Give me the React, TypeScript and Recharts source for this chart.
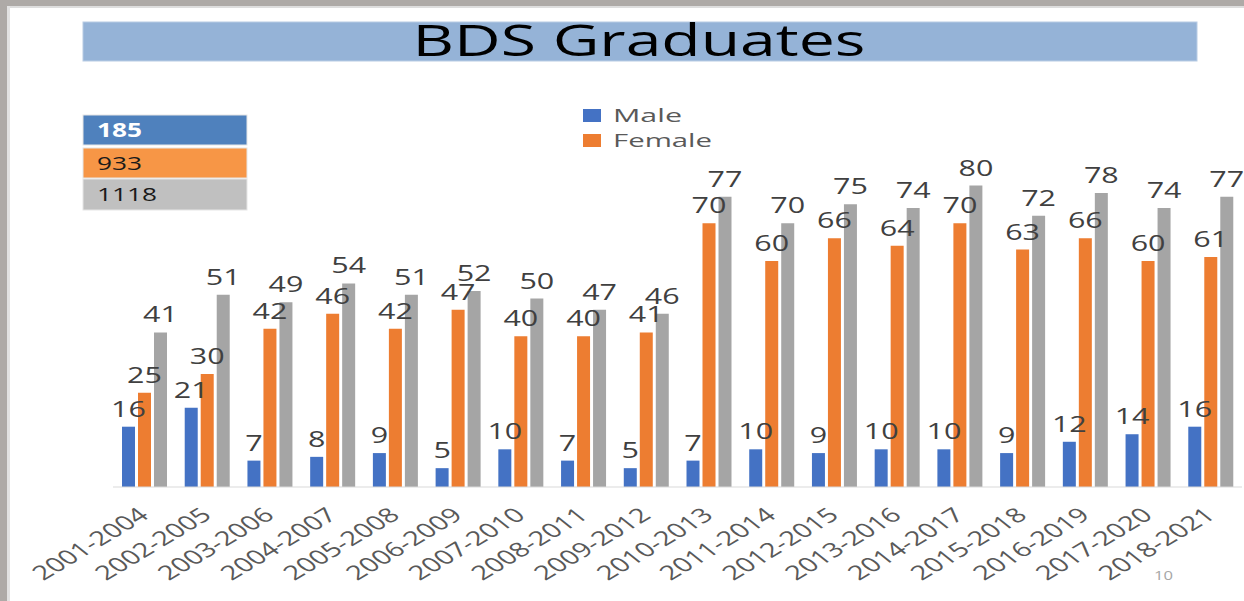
import React from "react";
import { BarChart, Bar, XAxis, YAxis, LabelList } from "recharts";

const categories = [
  "2001-2004", "2002-2005", "2003-2006", "2004-2007", "2005-2008", "2006-2009",
  "2007-2010", "2008-2011", "2009-2012", "2010-2013", "2011-2014", "2012-2015",
  "2013-2016", "2014-2017", "2015-2018", "2016-2019", "2017-2020", "2018-2021",
];
const maleValues = [16, 21, 7, 8, 9, 5, 10, 7, 5, 7, 10, 9, 10, 10, 9, 12, 14, 16];
const femaleValues = [25, 30, 42, 46, 42, 47, 40, 40, 41, 70, 60, 66, 64, 70, 63, 66, 60, 61];
const totalValues = [41, 51, 49, 54, 51, 52, 50, 47, 46, 77, 70, 75, 74, 80, 72, 78, 74, 77];
const summaryTotals = [185, 933, 1118];
const seriesNames = ["Male", "Female"];
const yTicks = [0, 80];

const FONT = "'Open Sans', 'DejaVu Sans', sans-serif";
const STRETCH = 1.45;

const data = categories.map((c, i) => ({
  period: c,
  male: maleValues[i],
  female: femaleValues[i],
  total: totalValues[i],
}));

const ValueLabel = (props: any) => {
  const { x, y, width, value } = props;
  const cx = Number(x) + Number(width) / 2;
  return (
    <text
      transform={`translate(${cx},${Number(y) - 10}) scale(${STRETCH},1)`}
      textAnchor="middle"
      fontSize={21}
      fontFamily={FONT}
      fill="#404040"
    >
      {value}
    </text>
  );
};

const AngledTick = (props: any) => {
  const { x, y, payload } = props;
  return (
    <g transform={`translate(${Number(x) + 6},${Number(y) + 30})`}>
      <text
        transform={`scale(1.45,1) rotate(-41)`}
        textAnchor="end"
        fontSize={20}
        fontFamily={FONT}
        fill="#595959"
      >
        {payload.value}
      </text>
    </g>
  );
};

export default function App() {
  const boxColors = ["#4f81bd", "#f79646", "#c0c0c0"];
  const boxText = ["#ffffff", "#1a1a1a", "#1a1a1a"];
  const boxTop = [115, 148, 179];
  const boxH = [30, 30, 31];
  const boxTextLen = [45, 45, 60];
  const legendColors = ["#4472c4", "#ed7d31"];
  const legendTextLen = [69, 99];
  return (
    <div
      style={{
        position: "fixed",
        left: 0,
        top: 0,
        width: 1244,
        height: 601,
        background: "#ffffff",
        overflow: "hidden",
        fontFamily: FONT,
      }}
    >
      <svg width={1244} height={601} style={{ position: "absolute", left: 0, top: 0 }}>
        <rect x={0} y={0} width={1244} height={6} fill="#aeaaa7" />
        <rect x={0} y={6} width={1244} height={2} fill="#dedede" />
        <rect x={0} y={0} width={7} height={601} fill="#aeaaa7" />
        <rect x={7} y={6} width={3} height={595} fill="#e2e2e2" />
        <rect x={83} y={22} width={1114} height={39} fill="#95b3d7" stroke="#b8cce4" strokeWidth={1} />
        <text
          x={639}
          y={56}
          textAnchor="middle"
          fontSize={43}
          fontFamily={FONT}
          fill="#000000"
          textLength={453}
          lengthAdjust="spacingAndGlyphs"
        >
          BDS Graduates
        </text>
        {summaryTotals.map((v, i) => (
          <g key={v}>
            <rect x={83} y={boxTop[i]} width={164} height={boxH[i]} fill={boxColors[i]} stroke="#e6e6e6" strokeWidth={1} />
            <text
              x={97}
              y={boxTop[i] + 22}
              fontSize={19}
              fontWeight={i === 0 ? 700 : 400}
              fontFamily={FONT}
              fill={boxText[i]}
              textLength={boxTextLen[i]}
              lengthAdjust="spacingAndGlyphs"
            >
              {v}
            </text>
          </g>
        ))}
        {seriesNames.map((n, i) => (
          <g key={n}>
            <rect x={583} y={109 + i * 25} width={18} height={13} fill={legendColors[i]} />
            <text
              x={613}
              y={122 + i * 25}
              fontSize={18}
              fontFamily={FONT}
              fill="#595959"
              textLength={legendTextLen[i]}
              lengthAdjust="spacingAndGlyphs"
            >
              {n}
            </text>
          </g>
        ))}
        <text
          x={1154}
          y={580}
          fontSize={12}
          fontFamily={FONT}
          fill="#a6a6a6"
          textLength={19}
          lengthAdjust="spacingAndGlyphs"
        >
          10
        </text>
      </svg>
      <div style={{ position: "absolute", left: 0, top: 0 }}>
        <BarChart
          width={1244}
          height={601}
          data={data}
          margin={{ top: 185.5, right: 2, left: 113, bottom: 0 }}
          barGap={3}
          barSize={13}
        >
          <XAxis
            dataKey="period"
            height={114}
            interval={0}
            tickLine={false}
            tickSize={0}
            tickMargin={0}
            axisLine={{ stroke: "#d9d9d9", strokeWidth: 1 }}
            tick={<AngledTick />}
          />
          <YAxis hide domain={[yTicks[0], yTicks[1]]} ticks={yTicks} />
          <Bar dataKey="male" name="Male" fill="#4472c4" isAnimationActive={false}>
            <LabelList dataKey="male" content={<ValueLabel />} />
          </Bar>
          <Bar dataKey="female" name="Female" fill="#ed7d31" isAnimationActive={false}>
            <LabelList dataKey="female" content={<ValueLabel />} />
          </Bar>
          <Bar dataKey="total" name="Total" fill="#a5a5a5" isAnimationActive={false}>
            <LabelList dataKey="total" content={<ValueLabel />} />
          </Bar>
        </BarChart>
      </div>
    </div>
  );
}
